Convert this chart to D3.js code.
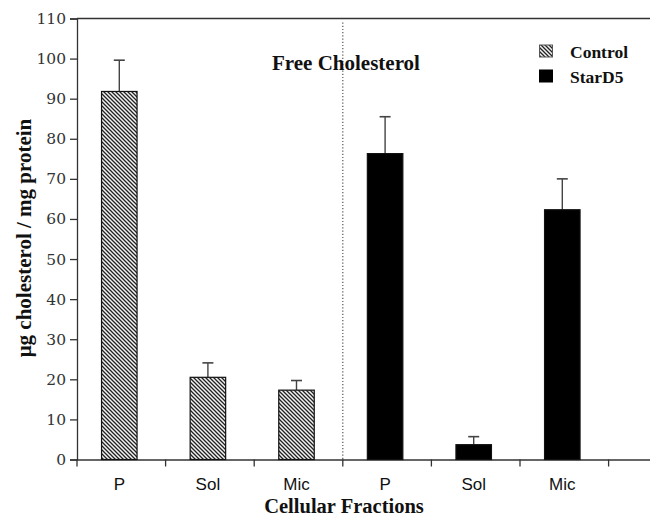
<!DOCTYPE html>
<html>
<head>
<meta charset="utf-8">
<script src="https://cdn.jsdelivr.net/npm/d3@7"></script>
<style>
  html, body { margin: 0; padding: 0; background: #fff; }
  svg { display: block; }
</style>
</head>
<body>
<script>
// ---- data ----
const categories = ["P", "Sol", "Mic", "P", "Sol", "Mic"];
const seriesNames = ["Control", "StarD5"];
const controlValues = [91.8, 20.5, 17.3];
const controlErrors = [7.8, 3.6, 2.4];
const stard5Values = [76.3, 3.7, 62.3];
const stard5Errors = [9.2, 2.0, 7.7];
const yTicks = [0, 10, 20, 30, 40, 50, 60, 70, 80, 90, 100, 110];

const W = 650, H = 518;
const svg = d3.select("body").append("svg").attr("width", W).attr("height", H);

const defs = svg.append("defs");
const pat = defs.append("pattern")
  .attr("id", "hatch").attr("patternUnits", "userSpaceOnUse")
  .attr("width", 4).attr("height", 4);
pat.append("rect").attr("width", 4).attr("height", 4).attr("fill", "#f2f2f2");
pat.append("path").attr("d", "M-1,-1 L5,5 M-1,3 L1,5 M3,-1 L5,1")
  .attr("stroke", "#222").attr("stroke-width", 1.3);

// build rows
const rows = [];
controlValues.forEach((v, i) => rows.push({ idx: i, series: 0, value: v, err: controlErrors[i] }));
stard5Values.forEach((v, i) => rows.push({ idx: i + 3, series: 1, value: v, err: stard5Errors[i] }));

const slots = d3.range(7);
const x0 = 77, band = 88.6;
const x = d3.scaleBand().domain(slots).range([x0, x0 + band * 7]).paddingInner(0).paddingOuter(0);
const y = d3.scaleLinear().domain([0, 110]).range([459.5, 18.5]);

const barW = 35.5, off = -2;

// top border
svg.append("line").attr("x1", x0).attr("x2", W).attr("y1", y(110)).attr("y2", y(110))
  .attr("stroke", "#333").attr("stroke-width", 1.3);

// y axis
const yAxis = svg.append("g").attr("transform", `translate(${x0},0)`)
  .call(d3.axisLeft(y).tickValues(yTicks).tickSize(7).tickPadding(4));
yAxis.select(".domain").attr("stroke", "#333").attr("stroke-width", 1.3);
yAxis.selectAll(".tick line").attr("stroke", "#333").attr("stroke-width", 1.3);
yAxis.selectAll(".tick text").attr("font-family", "'DejaVu Serif', serif")
  .attr("font-size", 15.5).attr("fill", "#333");

// x axis
const xAxis = svg.append("g").attr("transform", `translate(0,${y(0)})`)
  .call(d3.axisBottom(x).tickValues([]).tickSize(0));
xAxis.select(".domain").attr("stroke", "#333").attr("stroke-width", 1.3);
xAxis.selectAll(".xt").data(slots).enter().append("line")
  .attr("x1", d => x(d)).attr("x2", d => x(d)).attr("y1", 0).attr("y2", 7)
  .attr("stroke", "#333").attr("stroke-width", 1.3);

// category labels
svg.selectAll(".cat").data(categories).enter().append("text")
  .attr("x", (d, i) => x(i) + x.bandwidth() / 2 + off)
  .attr("y", 490).attr("text-anchor", "middle")
  .attr("font-family", "'Liberation Sans', Arial, sans-serif").attr("font-size", 17)
  .attr("fill", "#111").text(d => d);

// divider dotted line
svg.append("line").attr("x1", x(3)).attr("x2", x(3)).attr("y1", y(109)).attr("y2", y(0))
  .attr("stroke", "#555").attr("stroke-width", 1.2).attr("stroke-dasharray", "1.2,2");

// error bars
const eb = svg.selectAll(".err").data(rows).enter().append("g");
eb.append("line")
  .attr("x1", d => x(d.idx) + x.bandwidth() / 2 + off).attr("x2", d => x(d.idx) + x.bandwidth() / 2 + off)
  .attr("y1", d => y(d.value)).attr("y2", d => y(d.value + d.err))
  .attr("stroke", "#444").attr("stroke-width", 1.4);
eb.append("line")
  .attr("x1", d => x(d.idx) + x.bandwidth() / 2 + off - 5.5).attr("x2", d => x(d.idx) + x.bandwidth() / 2 + off + 5.5)
  .attr("y1", d => y(d.value + d.err)).attr("y2", d => y(d.value + d.err))
  .attr("stroke", "#444").attr("stroke-width", 1.6);

// bars
svg.selectAll(".bar").data(rows).enter().append("rect")
  .attr("x", d => x(d.idx) + x.bandwidth() / 2 + off - barW / 2)
  .attr("width", barW)
  .attr("y", d => y(d.value)).attr("height", d => y(0) - y(d.value))
  .attr("fill", d => d.series === 0 ? "url(#hatch)" : "#000")
  .attr("stroke", "#111").attr("stroke-width", 1.2);

// title
svg.append("text").attr("x", 272).attr("y", 70)
  .attr("font-family", "'Liberation Serif', 'Times New Roman', serif")
  .attr("font-weight", "bold").attr("font-size", 21).attr("fill", "#111")
  .text("Free Cholesterol");

// legend
const lg = svg.append("g");
const legendY = [45, 70];
lg.selectAll("rect").data(seriesNames).enter().append("rect")
  .attr("x", 539.5).attr("y", (d, i) => legendY[i]).attr("width", 13).attr("height", 12)
  .attr("fill", (d, i) => i === 0 ? "url(#hatch)" : "#000")
  .attr("stroke", (d, i) => i === 0 ? "#555" : "#000").attr("stroke-width", 1);
lg.selectAll("text").data(seriesNames).enter().append("text")
  .attr("x", 570).attr("y", (d, i) => legendY[i] + 12.5)
  .attr("font-family", "'Liberation Serif', 'Times New Roman', serif")
  .attr("font-weight", "bold").attr("font-size", 17.5).attr("fill", "#111")
  .text(d => d);

// axis titles
svg.append("text").attr("x", 344).attr("y", 513).attr("text-anchor", "middle")
  .attr("font-family", "'Liberation Serif', 'Times New Roman', serif")
  .attr("font-weight", "bold").attr("font-size", 20.5).attr("fill", "#111")
  .text("Cellular Fractions");
svg.append("text").attr("transform", "translate(31,238) rotate(-90)").attr("text-anchor", "middle")
  .attr("font-family", "'Liberation Serif', 'Times New Roman', serif")
  .attr("font-weight", "bold").attr("font-size", 21).attr("fill", "#111")
  .text("μg cholesterol / mg protein");
</script>
</body>
</html>
